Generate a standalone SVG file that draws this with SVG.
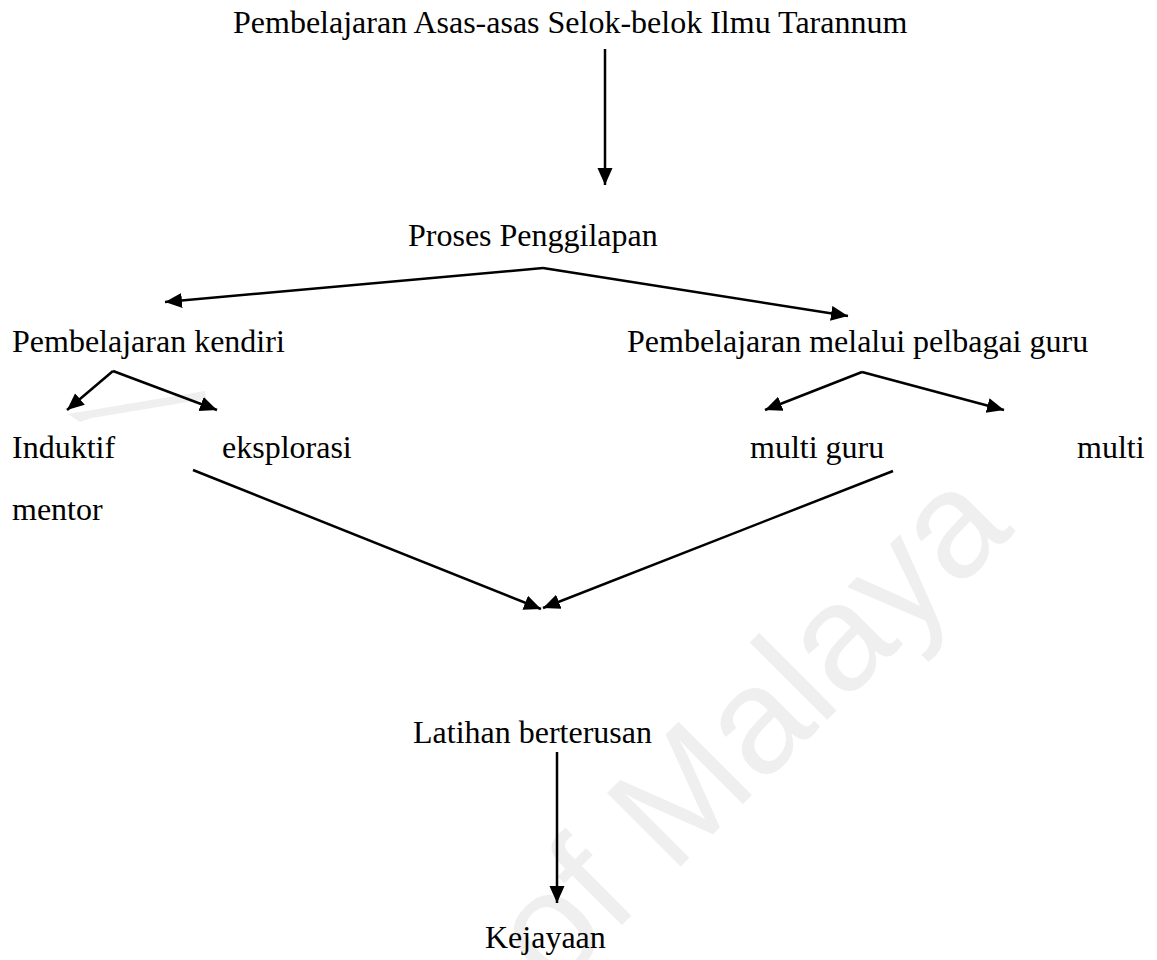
<svg xmlns="http://www.w3.org/2000/svg" width="1157" height="960" viewBox="0 0 1157 960">
<defs>
<style>
.t{font-family:"Liberation Serif","Times New Roman",serif;font-size:32px;fill:#000}
.c{stroke:#000;stroke-width:2.5;fill:none;marker-end:url(#ah)}
.wm{font-family:"Liberation Sans",Arial,sans-serif;font-size:151px;fill:#efefef}
</style>
<marker id="ah" markerUnits="userSpaceOnUse" markerWidth="18" markerHeight="16" refX="17" refY="7.5" orient="auto">
<path d="M0,0 L17,7.5 L0,15 z" fill="#000"/>
</marker>
</defs>
<rect width="1157" height="960" fill="#fff"/>
<g id="watermark">
<text class="wm" transform="translate(553,994) rotate(-45)">of Malaya</text>
<polygon points="68,414 205,391 206,399 92,418 80,422" fill="#efefef"/>
</g>
<g id="connectors">
<line class="c" x1="605" y1="49" x2="605" y2="185"/>
<line class="c" x1="543" y1="268" x2="165" y2="302"/>
<line class="c" x1="543" y1="268" x2="848" y2="316"/>
<line class="c" x1="113" y1="371" x2="67" y2="410"/>
<line class="c" x1="113" y1="371" x2="217" y2="410"/>
<line class="c" x1="862" y1="372" x2="765" y2="410"/>
<line class="c" x1="862" y1="372" x2="1004" y2="410"/>
<line class="c" x1="193" y1="470" x2="541" y2="609"/>
<line class="c" x1="893" y1="471" x2="543" y2="608"/>
<line class="c" x1="557" y1="752" x2="557" y2="903"/>
</g>
<g id="n-title"><text class="t" x="233" y="33">Pembelajaran Asas-asas Selok-belok Ilmu Tarannum</text></g>
<g id="n-proses"><text class="t" x="408" y="246">Proses Penggilapan</text></g>
<g id="n-kendiri"><text class="t" x="12" y="352">Pembelajaran kendiri</text></g>
<g id="n-guru"><text class="t" x="627" y="352">Pembelajaran melalui pelbagai guru</text></g>
<g id="n-induktif"><text class="t" x="12" y="458">Induktif</text></g>
<g id="n-eksplorasi"><text class="t" x="222" y="458">eksplorasi</text></g>
<g id="n-multiguru"><text class="t" x="750" y="458">multi guru</text></g>
<g id="n-multimentor"><text class="t" x="1077" y="458">multi</text><text class="t" x="12" y="520">mentor</text></g>
<g id="n-latihan"><text class="t" x="413" y="743">Latihan berterusan</text></g>
<g id="n-kejayaan"><text class="t" x="485" y="948">Kejayaan</text></g>
</svg>
